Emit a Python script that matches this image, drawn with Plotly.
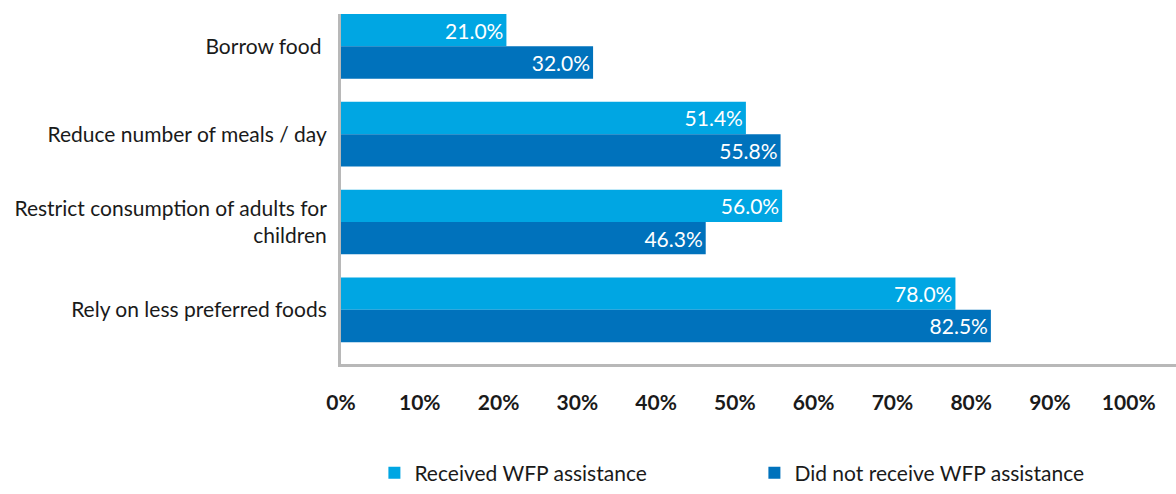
import plotly.graph_objects as go

categories = ["Borrow food ", "Reduce number of meals / day",
              "Restrict consumption of adults for<br>children", "Rely on less preferred foods"]
received = [21.0, 51.4, 56.0, 78.0]
not_received = [32.0, 55.8, 46.3, 82.5]
tick_vals = [0, 10, 20, 30, 40, 50, 60, 70, 80, 90, 100]
tick_text = ["0%", "10%", "20%", "30%", "40%", "50%", "60%", "70%", "80%", "90%", "100%"]

FONT = "Lato, 'Open Sans', sans-serif"

fig = go.Figure()
fig.add_trace(go.Bar(
    y=categories, x=received, orientation="h", name="Received WFP assistance",
    marker=dict(color="#00A6E3", line=dict(width=0)),
    text=[f"{v:.1f}%" for v in received], textposition="inside", insidetextanchor="end",
    textfont=dict(color="white", size=21, family=FONT), cliponaxis=False,
))
fig.add_trace(go.Bar(
    y=categories, x=not_received, orientation="h", name="Did not receive WFP assistance",
    marker=dict(color="#0072BC", line=dict(width=0)),
    text=[f"{v:.1f}%" for v in not_received], textposition="inside", insidetextanchor="end",
    textfont=dict(color="white", size=21, family=FONT), cliponaxis=False,
))

fig.update_layout(
    width=1176, height=494,
    margin=dict(l=341, r=0, t=14, b=128),
    barmode="group", bargap=0.264, bargroupgap=0,
    plot_bgcolor="white", paper_bgcolor="white",
    font=dict(family=FONT, color="#1a1a1a", size=20),
    xaxis=dict(range=[0, 106], tickvals=tick_vals, ticktext=tick_text, showgrid=False,
               zeroline=False, showline=True, linecolor="#b8b8b8", linewidth=3,
               ticks="", ticklabelstandoff=18,
               tickfont=dict(family="Lato, sans-serif", size=21, color="#1a1a1a", weight="bold")),
    yaxis=dict(type="category", range=[3.617, -0.368], showgrid=False, zeroline=False,
               showline=True, linecolor="#b8b8b8", linewidth=3, ticks="", ticklabelstandoff=7,
               tickfont=dict(family=FONT, size=21, color="#1a1a1a")),
    legend=dict(orientation="h", x=0.040, xanchor="left", y=-0.312, yanchor="middle",
                entrywidth=335, entrywidthmode="pixels", traceorder="normal",
                font=dict(family=FONT, size=21, color="#1a1a1a")),
    showlegend=True,
)

fig.write_html("out.html", config={"displayModeBar": False},
               post_script="document.body.style.margin='0';")
